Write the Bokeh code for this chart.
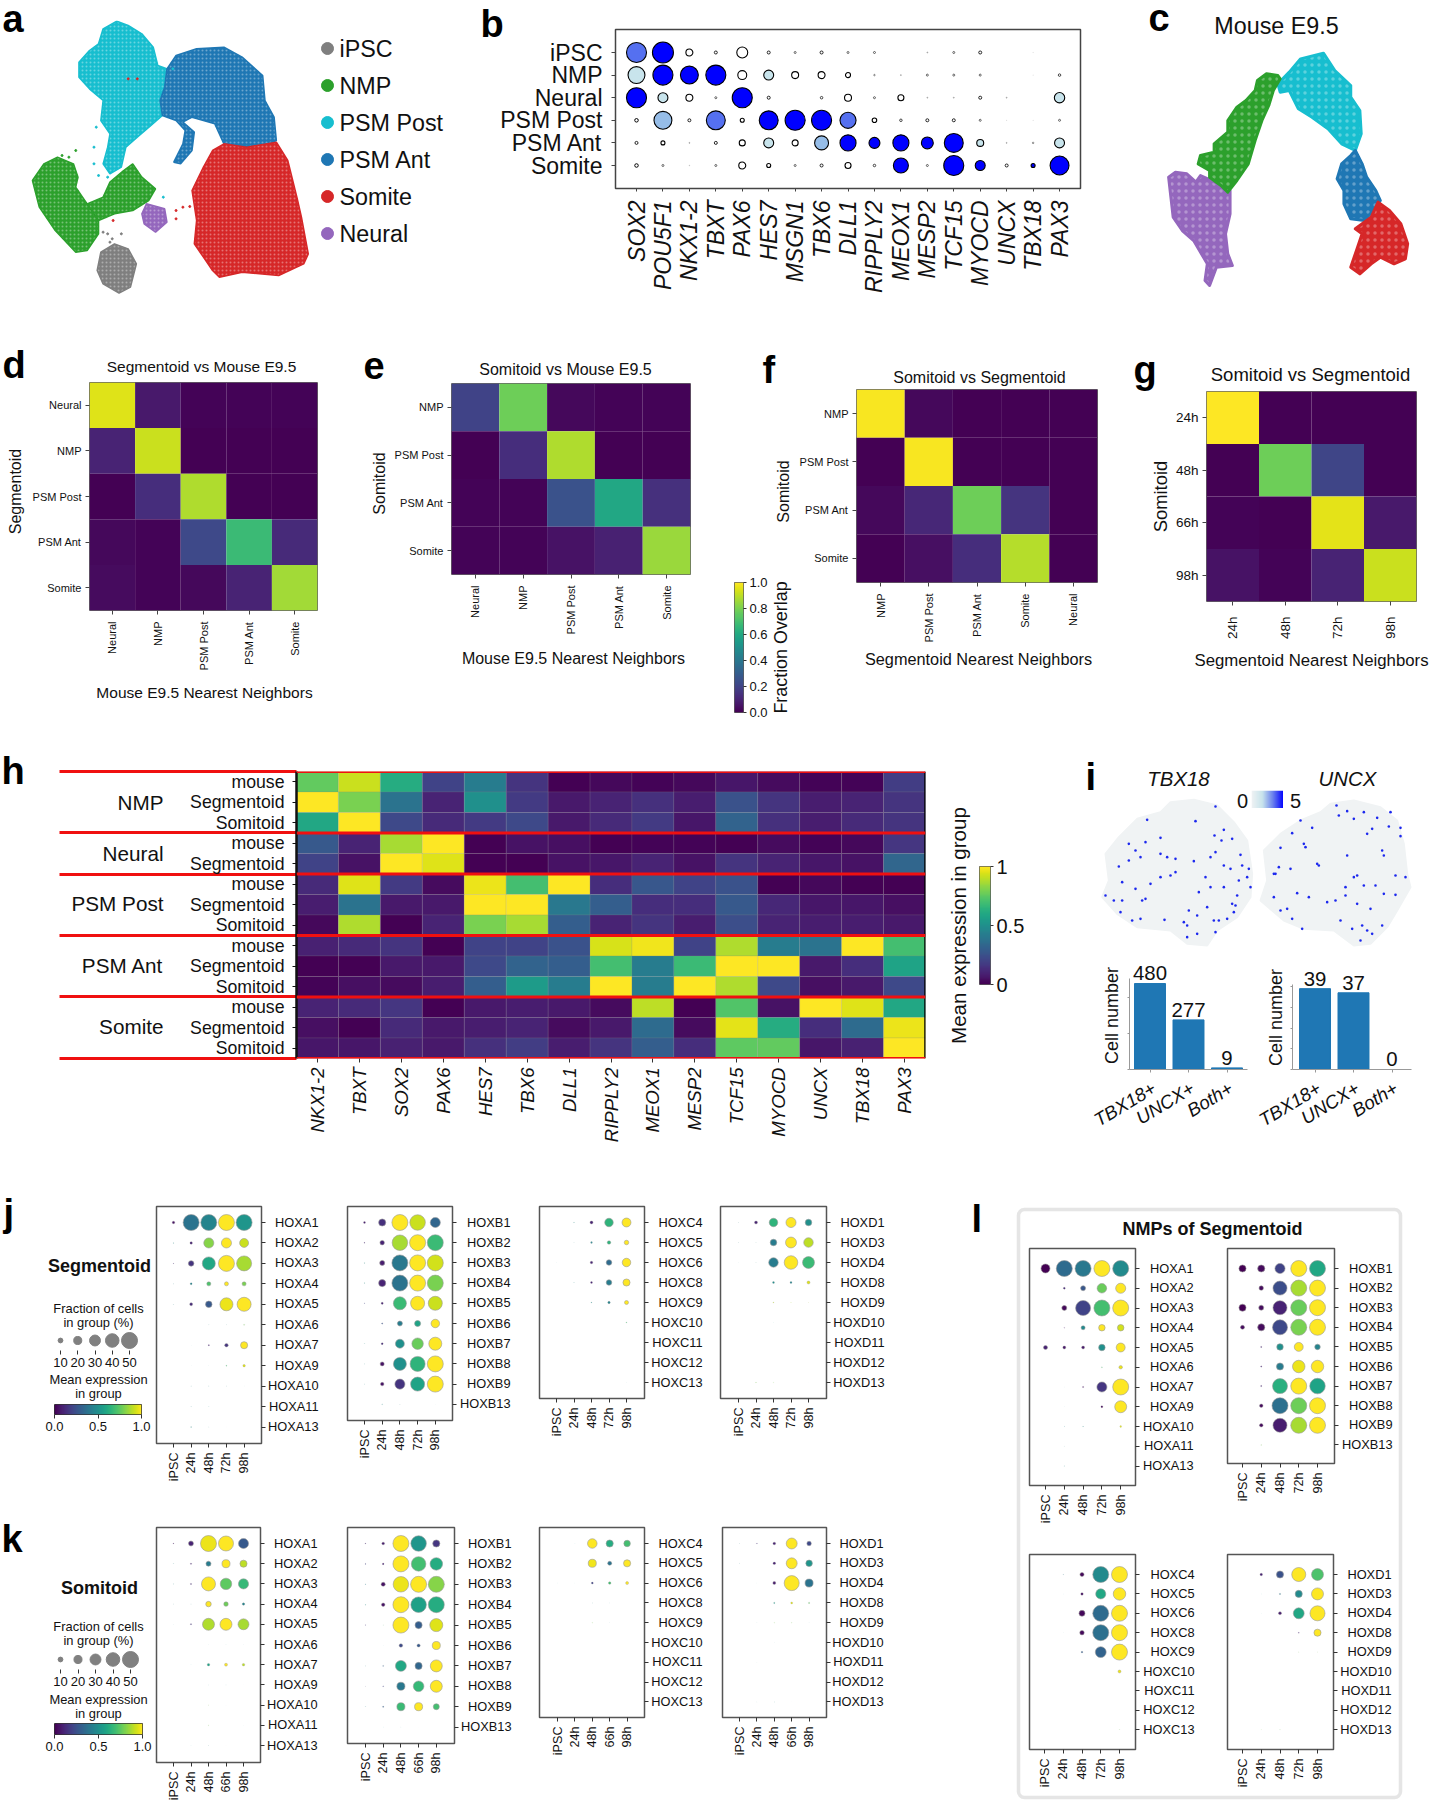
from math import pi
import numpy as np
from bokeh.plotting import figure
from bokeh.layouts import column
from bokeh.models import (Range1d, LinearAxis, FixedTicker, Label, Span, BoxAnnotation,
                          LinearColorMapper, ColumnDataSource)
from bokeh.palettes import Viridis256
from bokeh.embed import file_html
from bokeh.resources import INLINE

FONT = "Liberation Sans"
INK = "#111111"

# ---------- panel a / c : cluster outlines ----------
cluster_colors = {"iPSC": "#7f7f7f", "NMP": "#2ca02c", "PSM Post": "#17becf",
                  "PSM Ant": "#1f77b4", "Somite": "#d62728", "Neural": "#9467bd"}
legend_names = ["iPSC", "NMP", "PSM Post", "PSM Ant", "Somite", "Neural"]

a_post = [(255,62),(225,85),(215,130),(195,150),(172,185),(172,230),(195,265),(225,300),(220,360),(240,400),(235,440),(225,490),(240,520),(265,500),(275,440),(300,410),(330,375),(355,345),(350,290),(360,260),(375,210),(345,195),(335,140),(310,100),(280,75)]
a_ant = [(365,205),(385,165),(430,145),(490,140),(530,170),(575,225),(580,300),(600,350),(605,420),(590,430),(555,440),(490,430),(470,370),(420,350),(400,365),(425,395),(420,450),(395,490),(380,485),(400,430),(405,390),(385,360),(355,345),(350,300),(360,260)]
a_somite = [(490,430),(540,440),(605,425),(630,480),(650,590),(660,650),(675,760),(665,790),(610,825),(530,815),(480,830),(465,810),(445,770),(425,730),(430,660),(420,570),(445,500),(465,450)]
a_nmp1 = [(125,470),(160,490),(170,530),(165,560),(190,610),(215,660),(215,700),(190,750),(165,755),(120,690),(85,620),(70,540),(95,490)]
a_nmp2 = [(290,490),(310,530),(340,565),(325,600),(290,630),(250,640),(215,660),(190,610),(225,590),(240,545),(270,510)]
a_ipsc = [(250,730),(280,745),(298,790),(285,860),(260,878),(225,850),(212,810),(220,755)]
a_neural = [(320,610),(360,625),(365,665),(340,695),(315,670),(310,640)]
a_strays = {"PSM Post": [(205,440),(210,380),(205,490),(215,525),(235,530),(357,590),(378,205)],
            "Somite": [(280,235),(300,235),(400,620),(415,618),(385,630),(385,655),(247,660)],
            "NMP": [(165,450),(135,465),(150,470)],
            "iPSC": [(235,700),(245,715),(265,700),(225,695),(240,725)]}

c_green = [(1235,225),(1210,220),(1190,240),(1185,270),(1165,300),(1145,320),(1125,360),(1125,395),(1095,430),(1095,455),(1065,465),(1060,490),(1085,510),(1085,530),(1110,555),(1125,575),(1145,540),(1170,490),(1185,420),(1200,360),(1215,315),(1225,270),(1240,235)]
c_cyan = [(1235,250),(1260,215),(1285,175),(1335,158),(1360,210),(1395,255),(1395,290),(1415,330),(1418,400),(1405,450),(1375,430),(1345,385),(1310,350),(1280,325),(1260,270),(1240,275)]
c_blue = [(1405,450),(1420,490),(1430,530),(1450,570),(1460,600),(1445,630),(1425,660),(1395,655),(1380,610),(1380,570),(1365,535),(1375,490),(1395,465)]
c_red = [(1455,605),(1480,630),(1505,670),(1520,730),(1515,775),(1490,790),(1460,770),(1440,790),(1415,820),(1395,800),(1410,740),(1420,700),(1405,685),(1440,650)]
c_purple = [(1010,515),(1035,520),(1055,545),(1065,525),(1090,540),(1130,570),(1130,640),(1120,700),(1125,760),(1135,795),(1100,800),(1085,855),(1075,840),(1080,790),(1050,720),(1025,690),(1005,650),(1000,590),(995,530)]

# ---------- panel b ----------
b_genes = ["SOX2","POU5F1","NKX1-2","TBXT","PAX6","HES7","MSGN1","TBX6","DLL1","RIPPLY2","MEOX1","MESP2","TCF15","MYOCD","UNCX","TBX18","PAX3"]
b_rows = ["iPSC","NMP","Neural","PSM Post","PSM Ant","Somite"]
b_pct = [[94,100,23,7.5,42,7.5,4.4,7.5,4.4,4.4,0,1.7,4.4,7.5,0,.6,0],
         [75,94,81,94,32,37,23,23,15,3,1.7,4.4,4.4,4.4,0,.6,5.9],
         [94,37,23,4.4,94,7.5,0,5.9,23,4.4,19,1.7,1.7,7.5,1.7,0,39],
         [9.3,81,7.5,87,11,87,94,94,70,13,5.9,7.5,7.5,4.4,.6,.6,4.4],
         [7.5,11,1.7,7.5,19,37,19,58,70,42,70,47,87,23,1.7,3,37],
         [9.3,4.4,1,4.4,23,11,4.4,7.5,19,5.9,64,4.4,94,37,7.5,11,87]]
b_val = [[.65,1,0,0,0,0,0,0,0,0,0,0,0,0,0,0,0],
         [.2,.8,1,1,0,.2,.05,.05,.05,0,0,0,0,0,0,0,0],
         [1,.2,.05,0,1,0,0,0,0,0,.05,0,0,0,0,0,.2],
         [0,.4,0,.7,0,1,1,1,.7,0,0,0,0,0,0,0,0],
         [0,0,0,0,0,.2,.05,.4,1,1,1,1,.9,.3,0,0,.2],
         [0,0,0,0,0,.05,0,0,0,0,.8,0,1,1,0,.9,1]]
b_palette = ["#ffffff","#c8e4ec","#96bde8","#5570f0","#0000ff"]

# ---------- panels d-g ----------
d_cols = ["Neural","NMP","PSM Post","PSM Ant","Somite"]
d_rows = ["Neural","NMP","PSM Post","PSM Ant","Somite"]
d_vals = [[.95,.07,.01,.01,.01],[.1,.92,0,0,0],[0,.13,.88,0,0],[.02,.01,.22,.68,.12],[.03,.01,.02,.1,.86]]
e_cols = ["Neural","NMP","PSM Post","PSM Ant","Somite"]
e_rows = ["NMP","PSM Post","PSM Ant","Somite"]
e_vals = [[.2,.78,.02,.01,.01],[0,.13,.88,0,0],[.01,.01,.25,.6,.14],[.01,.01,.05,.09,.85]]
f_cols = ["NMP","PSM Post","PSM Ant","Somite","Neural"]
f_rows = ["NMP","PSM Post","PSM Ant","Somite"]
f_vals = [[.99,.02,0,0,0],[0,.99,0,0,0],[.02,.11,.78,.15,0],[0,.04,.13,.89,0]]
g_cols = ["24h","48h","72h","98h"]
g_rows = ["24h","48h","66h","98h"]
g_vals = [[1,0,0,0],[0,.78,.21,0],[.01,0,.96,.07],[.05,.01,.1,.92]]

# ---------- panel h ----------
h_genes = ["NKX1-2","TBXT","SOX2","PAX6","HES7","TBX6","DLL1","RIPPLY2","MEOX1","MESP2","TCF15","MYOCD","UNCX","TBX18","PAX3"]
h_rows = ["mouse","Segmentoid","Somitoid","mouse","Segmentoid","mouse","Segmentoid","Somitoid","mouse","Segmentoid","Somitoid","mouse","Segmentoid","Somitoid"]
h_vals = [[.76,.92,.62,.2,.42,.15,0,.02,.01,.02,.06,.03,.01,.01,.18],
          [1,.8,.38,.1,.5,.17,.07,.1,.14,.08,.25,.15,.08,.1,.15],
          [.6,1,.22,.12,.17,.22,.07,.12,.17,.06,.32,.14,.08,.12,.15],
          [.28,.1,.87,1,0,.05,.04,0,.01,.01,0,.03,.01,.02,.16],
          [.2,.05,1,.95,0,0,.05,.06,.1,.05,.15,.1,.06,.05,.33],
          [.12,.95,.17,.03,.97,.7,1,.13,.27,.2,.25,0,.02,0,0],
          [.08,.38,.07,.07,1,1,.4,.3,.13,.13,.28,.11,.06,.06,.04],
          [.02,.88,0,.1,.8,.87,.3,.1,.15,.08,.24,.1,.08,.08,.07],
          [.09,.12,.15,0,.2,.2,.25,.94,.98,.2,.88,.42,.38,1,.7],
          [0,0,.07,.07,.22,.32,.3,.7,.42,.68,1,1,.07,.13,.58],
          [.01,.04,.03,.08,.3,.55,.42,1,.42,1,.88,.22,.04,.07,.22],
          [.1,.12,.16,0,.07,.08,.07,.03,.9,0,.73,.05,1,.95,.6],
          [.04,0,.12,.07,.08,.1,.03,.07,.35,.03,.96,.62,.13,.35,.97],
          [.06,.06,.09,.07,.14,.18,.08,.15,.3,.13,.75,.76,.06,.09,1]]
h_groups = ["NMP","Neural","PSM Post","PSM Ant","Somite"]

# ---------- panel i ----------
i_blob_tbx18 = [(330,185),(400,178),(470,195),(520,245),(560,300),(575,400),(570,470),(530,530),(470,570),(440,615),(380,610),(330,570),(230,560),(170,520),(125,470),(145,420),(135,340),(175,290),(230,235),(300,215)]
i_blob_uncx = [(810,190),(880,180),(960,200),(1010,240),(1030,310),(1040,400),(1050,440),(1010,510),(980,560),(930,610),(880,615),(820,570),(730,565),(670,540),(600,480),(620,420),(610,330),(660,280),(720,240),(780,215)]
i_cells_tbx18 = [(465,198),(260,238),(405,242),(490,268),(462,285),(515,295),(483,300),(300,292),(255,305),(205,310),(540,343),(465,335),(320,350),(345,355),(225,330),(240,350),(205,360),(400,362),(175,378),(300,340),(450,350),(345,395),(330,405),(300,410),(545,375),(565,385),(560,410),(570,440),(535,420),(490,375),(510,385),(185,425),(225,445),(270,430),(415,455),(450,440),(490,440),(530,465),(515,490),(525,495),(185,480),(245,480),(160,480),(180,515),(135,465),(215,540),(240,535),(312,538),(370,545),(380,555),(460,540),(475,540),(500,535),(410,525),(385,510),(440,500),(410,580),(465,575),(380,590),(520,515),(255,475),(435,410)]
i_cells_uncx = [(828,195),(880,235),(910,215),(835,225),(860,212),(990,215),(950,232),(935,265),(985,258),(1020,262),(1020,287),(920,280),(720,240),(755,262),(695,278),(730,310),(660,322),(735,320),(860,345),(965,330),(970,345),(770,370),(775,375),(690,385),(645,400),(655,380),(1005,405),(1035,410),(945,435),(910,435),(970,460),(855,440),(855,465),(1005,463),(710,458),(745,470),(640,470),(660,510),(680,505),(695,535),(800,485),(825,480),(890,490),(930,505),(840,540),(905,555),(920,570),(935,580),(900,600),(965,555),(875,565),(880,410),(890,405),(640,400),(725,565)]
i_bar_names = ["TBX18+","UNCX+","Both+"]
i_counts_left = [480,277,9]
i_counts_right = [39,37,0]
i_stops = [(238,242,244),(200,228,236),(106,128,238),(0,0,255)]

# ---------- panels j, k, l : fraction of cells (%) and mean expression ----------
times_jl = ["iPSC","24h","48h","72h","98h"]
times_k = ["iPSC","24h","48h","66h","98h"]
genes_a = ["HOXA1","HOXA2","HOXA3","HOXA4","HOXA5","HOXA6","HOXA7","HOXA9","HOXA10","HOXA11","HOXA13"]
genes_b = ["HOXB1","HOXB2","HOXB3","HOXB4","HOXB5","HOXB6","HOXB7","HOXB8","HOXB9","HOXB13"]
genes_c = ["HOXC4","HOXC5","HOXC6","HOXC8","HOXC9","HOXC10","HOXC11","HOXC12","HOXC13"]
genes_d = ["HOXD1","HOXD3","HOXD4","HOXD8","HOXD9","HOXD10","HOXD11","HOXD12","HOXD13"]

j_a_pct = [[4.2,50,50,50,50],[1.25,4.2,27,27,23],[1.25,12,38,50,46],[.95,3.1,8,8,8],[.95,5.3,15,38,42],[0,0,.8,.8,1.6],[0,.5,2.1,6.6,17],[0,.5,.5,1.6,4.2],[0,.95,.95,.8,.5],[0,.95,.8,0,0],[0,1.6,.8,.25,0]]
j_a_val = [[.05,.38,.45,1,.52],[.5,.1,.82,1,.92],[.1,.15,.6,1,.87],[.5,.45,.72,1,.8],[.5,.12,.28,.97,1],[.5,.5,.5,.5,.8],[.5,.5,.1,.15,1],[.5,.5,.5,.7,.95],[.5,.5,.5,.5,.5],[.5,.5,.5,.5,.5],[.5,.5,.5,.5,.5]]
j_b_pct = [[3.1,17,50,48,27],[1.6,9.2,48,50,50],[1.25,10.6,50,50,50],[1.25,17,50,50,50],[1.25,3.5,38,42,42],[0,2.1,10.6,13.5,21.5],[.95,3.1,23,32,38],[.95,8,38,46,50],[.95,6.6,27,42,50],[0,1.25,.8,0,.35]]
j_b_val = [[.08,.14,1,.92,.33],[.1,.1,.87,1,.68],[.5,.08,.4,1,.93],[.5,.1,.38,1,.8],[.2,.1,.68,1,.92],[.5,.25,.42,.58,1],[.5,.12,.5,.77,1],[.5,.05,.5,.65,1],[.5,.05,.15,.58,1],[.5,.5,.5,.5,.5]]
j_c_pct = [[0,1.25,5.3,21.5,23],[0,.8,2.7,6.6,9.2],[.5,0,4.2,12,21.5],[0,.95,3.1,12,17],[0,0,1.6,4.2,8],[0,0,0,0,1.6],[0,0,0,0,0],[0,0,0,0,0],[0,0,0,0,.5]]
j_c_val = [[.5,.5,.1,.65,1],[.5,.5,.45,.65,1],[.5,.5,.1,.35,1],[.5,.5,.1,.42,1],[.5,.5,.5,.45,1],[.5,.5,.5,.5,.7],[.5]*5,[.5]*5,[.5]*5]
j_d_pct = [[.8,5.3,21.5,27,15],[.8,.8,15,30,25],[.5,.8,25,40,34],[0,0,3.1,3.1,5.3],[0,0,1.6,.95,.8],[0,0,.6,0,0],[0,0,0,0,0],[0,0,0,0,0],[0,1.25,.95,0,.25]]
j_d_val = [[.5,.1,.65,1,.5],[.5,.5,.42,1,.9],[.5,.5,.42,1,.68],[.5,.5,.5,.45,.95],[.5,.5,.9,.9,.9],[.5]*5,[.5]*5,[.5]*5,[.5,.8,.8,.5,.5]]

k_a_pct = [[1.6,10.6,50,46,27],[.95,2.1,10.6,20,17],[1.1,2.1,42,32,27],[.8,.8,12,9.2,4.2],[.6,2.1,34,34,30],[0,0,.5,.6,.5],[0,.6,4.2,5.3,4.2],[0,0,.6,.6,.35],[0,0,.95,.35,0],[0,0,1.1,0,.35],[0,.6,.8,.25,0]]
k_a_val = [[.05,.1,.97,1,.28],[.5,.1,.42,1,.9],[.5,.12,1,.75,.67],[.5,.5,1,.78,.45],[.5,.15,.88,1,.87],[.5]*5,[.5,.5,.58,1,.9],[.5]*5,[.5,.5,.8,.5,.5],[.5,.5,.8,.5,.5],[.5]*5]
k_b_pct = [[1.6,4.6,50,48,17],[1.6,2.7,50,44,36],[1.25,8,48,50,50],[1.25,6.6,50,48,50],[1.25,.95,50,17,38],[0,.5,6.6,5.8,20],[.95,1.6,30,17,34],[.8,1.6,20,29,34],[.95,2.1,20,20,13.5],[0,.6,.6,.25,0]]
k_b_val = [[.1,.08,1,.52,.16],[.2,.1,1,.7,.62],[.4,.05,.97,1,.82],[.5,.05,1,.57,.62],[.15,.7,1,.3,.95],[.5,.5,.22,.28,1],[.5,.3,.6,.33,1],[.2,.2,.4,.67,1],[.5,.3,.68,1,.7],[.5]*5]
k_c_pct = [[0,.6,25,17,15],[0,0,20,8,17],[.5,.5,3.1,4.2,5.3],[0,0,.8,.6,0],[0,0,1.1,.6,0],[0,0,0,0,0],[0,0,0,0,0],[0,0,0,0,0],[0,0,0,0,0]]
k_c_val = [[.5,.5,1,.62,.7],[.5,.5,.98,.38,1],[.5,.5,.2,.7,1],[.5]*5,[.5,.5,.8,.5,.5],[.5]*5,[.5]*5,[.5]*5,[.5]*5]
k_d_pct = [[.8,1.6,4.6,30,9.2],[.8,0,4.2,30,15],[0,.5,5.3,46,20],[0,0,2.1,3.1,2.1],[0,.6,1.1,1.1,.6],[0,0,.5,0,0],[0,.5,0,0,0],[0,0,0,0,0],[0,.6,.8,.35,0]]
k_d_val = [[.5,.15,.1,1,.22],[.5,.5,.1,1,.52],[.5,.5,.08,1,.38],[.5,.5,.55,.95,.75],[.5,.5,.8,.8,.5],[.5]*5,[.5]*5,[.5]*5,[.5]*5]

l_a_pct = [[23,50,50,50,50],[0,3.1,10.6,25,27],[0,10.6,46,50,50],[0,1.25,8,15,15],[8,5.3,5.3,15,23],[0,0,0,1.6,6.6],[0,.5,2.1,27,50],[0,.5,0,3.1,34],[0,.95,1.25,0,2.7],[0,.8,0,0,0],[0,1.1,0,0,0]]
l_a_val = [[0,.35,.4,1,.48],[.5,.12,.27,.77,1],[.5,.02,.2,.7,1],[.5,.05,.47,1,.93],[.1,.07,.07,.5,1],[.5,.5,.5,.7,.97],[.5,.5,.05,.16,1],[.5,.5,.5,.03,1],[.5,.5,.5,.5,.95],[.5]*5,[.5]*5]
l_b_pct = [[17,17,27,50,50],[0,9.2,42,50,50],[17,10.6,42,50,50],[8,17,46,50,50],[0,2.1,15,23,12],[0,2.1,17,36,36],[0,2.1,46,50,48],[0,6.6,50,50,50],[0,6.6,42,50,50],[0,1.25,0,0,0]]
l_b_val = [[0,.03,.2,1,.6],[.5,.03,.24,.87,1],[0,.03,.1,.77,1],[.03,.03,.22,.8,1],[.5,.1,.5,1,.45],[.5,.1,.42,.97,1],[.5,.1,.63,1,.58],[.5,.03,.37,.78,1],[.5,.03,.08,.87,1],[.5,.8,.5,.5,.5]]
l_c_pct = [[0,1.1,8,50,50],[0,.5,4.2,27,36],[0,0,13.5,50,50],[0,.5,9.2,50,50],[0,0,2.7,30,50],[0,0,0,0,5.3],[0,0,0,0,0],[0,0,0,0,0],[0,0,0,0,.95]]
l_c_val = [[.5,.4,.02,.48,1],[.5,.5,.05,.6,1],[.5,.5,.02,.35,1],[.5,.5,.02,.37,1],[.5,.5,.3,.32,1],[.5,.5,.5,.5,.97],[.5]*5,[.5]*5,[.5,.5,.5,.5,.8]]
l_d_pct = [[0,4.2,17,42,34],[0,.6,2.1,17,34],[0,.5,5.3,30,46],[0,0,0,1.6,17],[0,0,0,.95,.8],[0,0,0,0,0],[0,0,0,0,0],[0,0,0,0,0],[0,.8,.95,0,0]]
l_d_val = [[.5,.1,.25,1,.72],[.5,.5,.4,.48,1],[.5,.5,.08,.6,1],[.5,.5,.5,.1,1],[.5,.5,.5,.8,.8],[.5]*5,[.5]*5,[.5]*5,[.5,.8,.8,.5,.5]]

legend_pct = [10,20,30,40,50]

# ---------- helpers ----------
figs = []
viridis = LinearColorMapper(palette=Viridis256, low=0, high=1)

def place(left, top, w, h):
    return {"position": "absolute", "left": f"{left}px", "top": f"{top}px",
            "width": f"{w}px", "height": f"{h}px", "min-width": f"{w}px", "min-height": f"{h}px", "flex": "none"}

def panel(L, T, R, B, xr, yr, pad=(90, 30, 90, 110)):
    pl, pt, pr, pb = pad
    w, h = int(R-L+pl+pr), int(B-T+pt+pb)
    p = figure(width=w, height=h, x_range=Range1d(*xr), y_range=Range1d(*yr),
               toolbar_location=None, output_backend="svg", x_axis_location=None, y_axis_location=None,
               min_border_left=pl, min_border_right=pr, min_border_top=pt, min_border_bottom=pb,
               border_fill_color=None, background_fill_color=None, frame_align=False,
               styles=place(L-pl, T-pt, w, h))
    p.xgrid.visible = False
    p.ygrid.visible = False
    p.outline_line_color = None
    figs.append(p)
    return p

def cat_axis(p, side, ticks, labels, size, italic=False, orient=None, out=4, standoff=4, color="#333333", lw=1, line=True):
    ax = LinearAxis(ticker=FixedTicker(ticks=list(ticks)),
                    major_label_overrides={t: l for t, l in zip(ticks, labels)})
    ax.major_label_text_font = FONT
    ax.major_label_text_font_size = size
    ax.major_label_text_color = INK
    ax.major_tick_in = 0
    ax.major_tick_out = out
    ax.minor_tick_out = 0
    ax.minor_tick_in = 0
    ax.major_tick_line_color = color
    ax.major_tick_line_width = lw
    ax.major_label_standoff = standoff
    ax.axis_line_color = color if line else None
    if italic:
        ax.major_label_text_font_style = "italic"
    if orient is not None:
        ax.major_label_orientation = orient
    p.add_layout(ax, side)
    return ax

def pix_range(a, b, first, step):
    return ((a-first)/step, (b-first)/step)

bg = figure(width=1429, height=1800, x_range=Range1d(0, 1429), y_range=Range1d(1800, 0),
            toolbar_location=None, output_backend="svg", x_axis_location=None, y_axis_location=None,
            min_border=0, border_fill_color=None, background_fill_color="white", frame_align=False,
            styles=place(0, 0, 1429, 1800))
bg.grid.visible = False
bg.outline_line_color = None
figs.append(bg)

def T(x, y, text, size, align="left", bold=False, italic=False, angle=0, baseline="alphabetic", color=INK):
    style = "bold" if bold else ("italic" if italic else "normal")
    if baseline == "alphabetic":
        y = y - 0.32*size
    bg.add_layout(Label(x=x, y=y, text=text, text_font=FONT, text_font_size=f"{size}px", text_align=align,
                        text_font_style=style, angle=angle, angle_units="rad", text_baseline=baseline,
                        text_color=color))

# panel letters
for ch, x, y in [("a",2,31),("b",480,36),("c",1148,30),("d",2,377),("e",363,377),("f",762,382),("g",1133,382),
                 ("h",1,783),("i",1085,789),("j",3,1225),("k",1,1551),("l",971,1231)]:
    T(x, y, ch, 38, bold=True, color="black")

# ---------- a ----------
def xy(points):
    return [q[0] for q in points], [q[1] for q in points]

pa = panel(20, 20, 320, 310, (20*2.193, 320*2.193), (310*3, 20*3), pad=(0,0,0,0))
for name, poly in [("PSM Post",a_post),("PSM Ant",a_ant),("Somite",a_somite),("NMP",a_nmp1),("NMP",a_nmp2),("iPSC",a_ipsc),("Neural",a_neural)]:
    xs, ys = xy(poly)
    pa.patch(xs, ys, fill_color=cluster_colors[name], line_color=cluster_colors[name], line_width=1.5,
             hatch_pattern="dot", hatch_color="white", hatch_scale=4, hatch_weight=1, hatch_alpha=0.35)
for name, pts in a_strays.items():
    xs, ys = xy(pts)
    pa.scatter(xs, ys, size=2, color=cluster_colors[name])
for i, name in enumerate(legend_names):
    bg.scatter([327], [48+37*i], size=12, color=cluster_colors[name])
    T(339, 48+37*i, name, 23.3, baseline="middle")

# ---------- b ----------
pb = panel(615, 29, 1080, 188, pix_range(615,1080,636,26.44), pix_range(188,29,52,22.6), pad=(150,10,20,120))
pb.outline_line_color = "#444444"
pb.outline_line_width = 1.5
b_map = LinearColorMapper(palette=b_palette, low=0, high=1)
bx, by, bs, bc, blw = [], [], [], [], []
for r, row in enumerate(b_pct):
    for c, v in enumerate(row):
        if v > 0:
            d = 21*(v/100)**.75
            bx.append(c); by.append(r); bs.append(d); bc.append(b_val[r][c]); blw.append(min(1.1, d*.28))
pb.scatter("x", "y", size="s", line_width="w", line_color="black",
           fill_color={"field": "v", "transform": b_map},
           source=ColumnDataSource(dict(x=bx, y=by, s=bs, v=bc, w=blw)))
cat_axis(pb, "left", range(6), b_rows, "23px", out=4, standoff=9, line=False, color="#444444")
cat_axis(pb, "below", range(17), b_genes, "23px", italic=True, orient=pi/2, out=3, standoff=9, line=False, color="#444444")

# ---------- c ----------
T(1276, 33, "Mouse E9.5", 23.3, align="center")
pc = panel(1140, 40, 1429, 300, ((1140-715)*2.196, (1429-715)*2.196), (300*3, 40*3), pad=(0,0,0,0))
for name, poly in [("PSM Post",c_cyan),("PSM Ant",c_blue),("Somite",c_red),("Neural",c_purple),("NMP",c_green)]:
    xs, ys = xy(poly)
    pc.patch(xs, ys, fill_color=cluster_colors[name], line_color=cluster_colors[name], line_width=3, line_join="round",
             hatch_pattern="dot", hatch_color="white", hatch_scale=7, hatch_weight=1, hatch_alpha=0.3)

# ---------- heatmaps ----------
def heat(L, T_, R, B, cols, rows, vals, xsize, ysize, xout=4, ystand=4, xstand=7):
    nc, nr = len(cols), len(rows)
    p = panel(L, T_, R, B, (-.5, nc-.5), (nr-.5, -.5))
    p.outline_line_color = "#666666"
    p.outline_line_width = 1
    xs, ys, vs = [], [], []
    for r in range(nr):
        for c in range(nc):
            xs.append(c); ys.append(r); vs.append(vals[r][c])
    p.rect("x", "y", width=1, height=1, line_color=None,
           fill_color={"field": "v", "transform": viridis},
           source=ColumnDataSource(dict(x=xs, y=ys, v=vs)))
    cat_axis(p, "left", range(nr), rows, ysize, out=4, standoff=ystand, line=False, color="#444444")
    cat_axis(p, "below", range(nc), cols, xsize, orient=pi/2, out=4, standoff=xstand, line=False, color="#444444")
    return p

heat(89, 382, 317, 610, d_cols, d_rows, d_vals, "11px", "11px")
T(201, 371, "Segmentoid vs Mouse E9.5", 15.5, align="center")
T(204, 697, "Mouse E9.5 Nearest Neighbors", 15.5, align="center")
T(15, 491, "Segmentoid", 16, align="center", angle=pi/2, baseline="middle")

heat(451, 383, 690, 574, e_cols, e_rows, e_vals, "11px", "11px")
T(565, 374, "Somitoid vs Mouse E9.5", 16, align="center")
T(573, 663, "Mouse E9.5 Nearest Neighbors", 16, align="center")
T(379, 483, "Somitoid", 16, align="center", angle=pi/2, baseline="middle")

heat(856, 389, 1097, 582, f_cols, f_rows, f_vals, "11px", "11px")
T(979, 382, "Somitoid vs Segmentoid", 16, align="center")
T(978, 664, "Segmentoid Nearest Neighbors", 16.3, align="center")
T(783, 491, "Somitoid", 16, align="center", angle=pi/2, baseline="middle")

heat(1206, 391, 1416, 601, g_cols, g_rows, g_vals, "13.5px", "13.5px", xstand=11)
T(1310, 380, "Somitoid vs Segmentoid", 18.5, align="center")
T(1311, 665, "Segmentoid Nearest Neighbors", 16.8, align="center")
T(1160, 496, "Somitoid", 18.4, align="center", angle=pi/2, baseline="middle")

def vbar_scale(L, T_, R, B, ticks, labels, size):
    p = panel(L, T_, R, B, (0, 1), (0, 1), pad=(10, 12, 60, 12))
    p.image(image=[np.linspace(0, 1, 128).reshape(-1, 1)], x=0, y=0, dw=1, dh=1, color_mapper=viridis)
    p.outline_line_color = "#333333"
    p.outline_line_width = .8
    cat_axis(p, "right", ticks, labels, size, out=3, standoff=3, line=False)
    return p

vbar_scale(734, 582, 743, 712, [0,.2,.4,.6,.8,1], ["0.0","0.2","0.4","0.6","0.8","1.0"], "13px")
T(780, 647, "Fraction Overlap", 17.9, align="center", angle=pi/2, baseline="middle")

# ---------- h ----------
ph = panel(296, 771, 925, 1058, (-.5, 14.5), (13.5, -.5), pad=(130, 10, 10, 110))
hx, hy, hv = [], [], []
for r in range(14):
    for c in range(15):
        hx.append(c); hy.append(r); hv.append(h_vals[r][c])
ph.rect("x", "y", width=1, height=1, line_color="#888888", line_alpha=.3, line_width=.6,
        fill_color={"field": "v", "transform": viridis},
        source=ColumnDataSource(dict(x=hx, y=hy, v=hv)))
ax = cat_axis(ph, "left", range(14), h_rows, "17.7px", out=4, standoff=8, color="#111111")
ax.axis_line_width = 2.5
cat_axis(ph, "below", range(15), h_genes, "18.6px", italic=True, orient=pi/2, out=4, standoff=5, line=False, color="#333333")
ph.add_layout(Span(location=14.5, dimension="height", line_color="black", line_width=2.5))
for b in [-.5, 2.5, 4.5, 7.5, 10.5, 13.5]:
    ph.add_layout(Span(location=b, dimension="width", line_color="#f01010", line_width=3, level="overlay"))
for y in [771, 832, 874, 935, 996, 1058]:
    bg.segment(x0=[59], y0=[y], x1=[296], y1=[y], line_color="#f01010", line_width=3)
for name, y in zip(h_groups, [802, 853, 903, 965, 1026]):
    T(163, y, name, 20.7, align="right", baseline="middle")
vbar_scale(979, 866, 990, 984, [0,.5,1], ["0","0.5","1"], "20px")
T(958, 925, "Mean expression in group", 20.6, align="center", angle=pi/2, baseline="middle")

# ---------- i ----------
T(1178, 785, "TBX18", 20.4, align="center", italic=True)
T(1347, 785, "UNCX", 20.4, align="center", italic=True)
def blob_panel(blob, cells, L):
    p = panel(L, 790, L+170, 950, (((L-1060)*3), ((L+170-1060)*3)), ((950-740)*3, (790-740)*3), pad=(0,0,0,0))
    xs, ys = xy(blob)
    p.patch(xs, ys, fill_color="#f0f3f4", line_color="#f0f3f4", line_width=2)
    xs, ys = xy(cells)
    p.scatter(xs, ys, size=2.6, color="#1c28ee", line_color=None)
blob_panel(i_blob_tbx18, i_cells_tbx18, 1095)
blob_panel(i_blob_uncx, i_cells_uncx, 1258)

i_lut = []
for t in np.linspace(0, 3, 64):
    i0 = min(int(t), 2)
    a0, a1 = i_stops[i0], i_stops[i0+1]
    f = t-i0
    i_lut.append("#%02x%02x%02x" % tuple(int(a0[j]+(a1[j]-a0[j])*f) for j in range(3)))
pg = panel(1251, 790, 1283, 808, (0, 1), (0, 1), pad=(0,0,0,0))
pg.image(image=[np.linspace(0, 1, 64).reshape(1, -1)], x=0, y=0, dw=1, dh=1,
         color_mapper=LinearColorMapper(palette=i_lut, low=0, high=1))
T(1242, 800, "0", 20, align="center", baseline="middle")
T(1295, 800, "5", 20, align="center", baseline="middle")

def bars(L, T_, R, B, counts, x0, ymax, ticks):
    p = panel(L, T_, R, B, pix_range(L, R, x0, 38.5), (0, ymax), pad=(30, 25, 10, 80))
    p.vbar(x=[0,1,2], top=counts, width=.805, color="#1f77b4", line_color="#1f77b4")
    cat_axis(p, "left", ticks, ["" for _ in ticks], "1px", out=2, standoff=0, color="#999999")
    cat_axis(p, "below", [0,1,2], ["" for _ in i_bar_names], "1px", out=3, standoff=0, color="#999999")
    for i, v in enumerate(counts):
        tx = x0 + i*38.5
        T(tx, B - v/ymax*(B-T_) - 3.5, str(v), 20.4, align="center")
        T(tx+4, B+17, i_bar_names[i], 18.7, align="right", italic=True, angle=.54, baseline="middle")
bars(1129, 978, 1247, 1069, i_counts_left, 1149.5, 508, [0,200,400])
bars(1292, 984, 1411, 1069, i_counts_right, 1314.5, 41, [0,10,20,30,40])
T(1111, 1015, "Cell number", 18, align="center", angle=pi/2, baseline="middle")
T(1275, 1017, "Cell number", 18, align="center", angle=pi/2, baseline="middle")

# ---------- dot plots ----------
def dot(frame, x_first, x_step, y_first, y_step, times, genes, pct, val, label_right):
    L, T_, R, B = frame
    p = panel(L, T_, R, B, pix_range(L, R, x_first, x_step), pix_range(B, T_, y_first, y_step), pad=(20, 10, 100, 70))
    p.outline_line_color = "#555555"
    p.outline_line_width = 1.5
    xs, ys, ss, vs, ws, al = [], [], [], [], [], []
    for r, row in enumerate(pct):
        for c, v in enumerate(row):
            if v > 0:
                d = 16*(v/50)**.75
                xs.append(c); ys.append(r); ss.append(d); vs.append(val[r][c])
                ws.append(min(.6, d*.12)); al.append(min(1, d/2))
    p.scatter("x", "y", size="s", line_width="w", line_color="#999999", fill_alpha="a", line_alpha="a",
              fill_color={"field": "v", "transform": viridis},
              source=ColumnDataSource(dict(x=xs, y=ys, s=ss, v=vs, w=ws, a=al)))
    cat_axis(p, "below", range(5), times, "12.6px", orient=pi/2, out=4, standoff=5, line=False, color="#333333")
    cat_axis(p, "right", range(len(genes)), ["" for _ in genes], "1px", out=4, standoff=0, line=False, color="#333333")
    for r, g in enumerate(genes):
        T(label_right, y_first + r*y_step - .5, g, 12.8, align="right", baseline="middle")

dot((156,1206,261,1443),173,17.65,1222,20.45,times_jl,genes_a,j_a_pct,j_a_val,318)
dot((347,1206,452,1420),364,17.7,1222,20.2,times_jl,genes_b,j_b_pct,j_b_val,510)
dot((539,1206,644,1398),556,17.5,1222,20,times_jl,genes_c,j_c_pct,j_c_val,702)
dot((720,1206,826,1398),738,17.5,1222,20,times_jl,genes_d,j_d_pct,j_d_val,884)
dot((156,1527,260,1762),173,17.5,1543,20.2,times_k,genes_a,k_a_pct,k_a_val,317)
dot((347,1527,454,1743),365,17.7,1543,20.4,times_k,genes_b,k_b_pct,k_b_val,511)
dot((539,1527,644,1717),557,17.4,1543,19.8,times_k,genes_c,k_c_pct,k_c_val,702)
dot((722,1527,826,1717),739,17.4,1543,19.8,times_k,genes_d,k_d_pct,k_d_val,883)
dot((1029,1248,1135,1485),1045,18.8,1268,19.75,times_jl,genes_a,l_a_pct,l_a_val,1193)
dot((1227,1248,1334,1463),1242,18.75,1268,19.6,times_jl,genes_b,l_b_pct,l_b_val,1392)
dot((1029,1554,1135,1749),1044,18.75,1574,19.4,times_jl,genes_c,l_c_pct,l_c_val,1194)
dot((1227,1554,1333,1749),1242,18.75,1574,19.4,times_jl,genes_d,l_d_pct,l_d_val,1391)

bg.add_layout(BoxAnnotation(left=1018, right=1400, top=1209, bottom=1797, fill_color=None, fill_alpha=0,
                            line_color="#a9a9a9", line_width=3.5, border_radius=6))
T(1212, 1234, "NMPs of Segmentoid", 18, align="center", bold=True)

def side_legend(title, ytitle, y1, ydots, ybar_top, ybar_bottom, x10, x50, cL, cR, ytxt):
    T(99, ytitle, title, 18, align="center", bold=True)
    T(98, y1, "Fraction of cells", 12.9, align="center")
    T(98, y1+14.5, "in group (%)", 12.9, align="center")
    k = (x50-x10)/40
    L, R = 40, 150
    p = panel(L, ydots-10, R, ydots+10, ((L-x10)/k+10, (R-x10)/k+10), (0, 1), pad=(10, 10, 10, 30))
    p.scatter(legend_pct, [.5]*5, size=[16*(v/50)**.75 for v in legend_pct], color="#808080")
    cat_axis(p, "below", legend_pct, [str(v) for v in legend_pct], "13px", out=4, standoff=3, line=False, color="#333333")
    T(98, ytxt, "Mean expression", 12.9, align="center")
    T(98, ytxt+14.5, "in group", 12.9, align="center")
    c = panel(cL, ybar_top, cR, ybar_bottom, (0, 1), (0, 1), pad=(20, 5, 20, 30))
    c.image(image=[np.linspace(0, 1, 128).reshape(1, -1)], x=0, y=0, dw=1, dh=1, color_mapper=viridis)
    c.outline_line_color = "#333333"
    c.outline_line_width = 1
    cat_axis(c, "below", [0, .5, 1], ["0.0", "0.5", "1.0"], "13px", out=4, standoff=3, line=False, color="#333333")

side_legend("Segmentoid", 1271, 1312, 1340, 1404, 1414, 60, 129, 54, 141, 1383)
side_legend("Somitoid", 1593, 1630, 1659, 1723, 1734, 60, 130, 54, 142, 1703)

root = column(*figs, width=1413, height=1784, sizing_mode="fixed")
open("out.html", "w").write(file_html(root, INLINE))
